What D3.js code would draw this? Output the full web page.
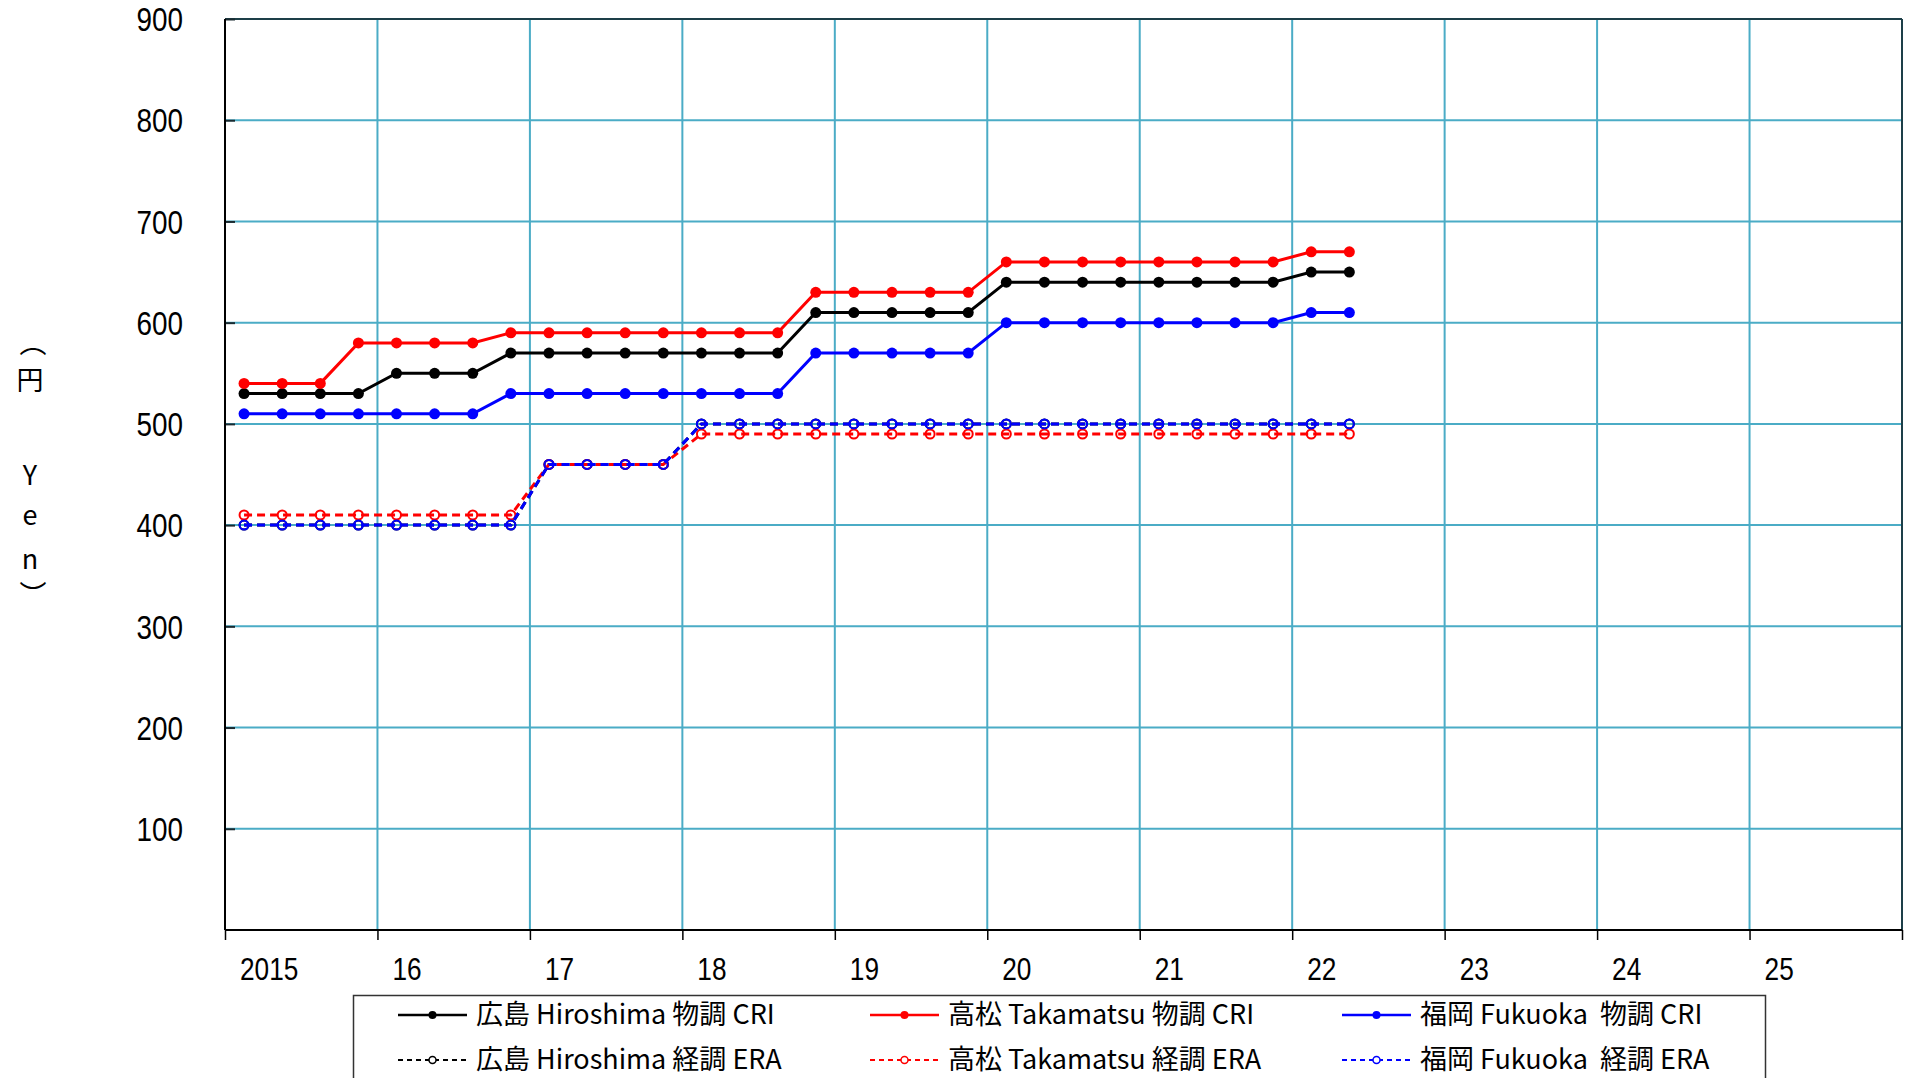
<!DOCTYPE html>
<html>
<head>
<meta charset="utf-8">
<script src="https://cdn.jsdelivr.net/npm/d3@7"></script>
<style>
  body { margin: 0; background: #fff; }
  .num { font-family: "Liberation Sans", Arial, sans-serif; fill: #000; }
  .jp { font-family: "Noto Sans CJK JP", "Noto Sans", sans-serif; fill: #000; }
</style>
</head>
<body>
<svg id="chart" width="1905" height="1078"></svg>
<script>
// quarters 2015 Q1 .. 2022 Q2
var quarters = ["2015Q1","2015Q2","2015Q3","2015Q4","2016Q1","2016Q2","2016Q3","2016Q4",
  "2017Q1","2017Q2","2017Q3","2017Q4","2018Q1","2018Q2","2018Q3","2018Q4",
  "2019Q1","2019Q2","2019Q3","2019Q4","2020Q1","2020Q2","2020Q3","2020Q4",
  "2021Q1","2021Q2","2021Q3","2021Q4","2022Q1","2022Q2"];

var hiroshimaCRI = [530,530,530,530, 550,550,550,570, 570,570,570,570, 570,570,570,610,
  610,610,610,610, 640,640,640,640, 640,640,640,640, 650,650];
var takamatsuCRI = [540,540,540,580, 580,580,580,590, 590,590,590,590, 590,590,590,630,
  630,630,630,630, 660,660,660,660, 660,660,660,660, 670,670];
var fukuokaCRI = [510,510,510,510, 510,510,510,530, 530,530,530,530, 530,530,530,570,
  570,570,570,570, 600,600,600,600, 600,600,600,600, 610,610];
var hiroshimaERA = [400,400,400,400, 400,400,400,400, 460,460,460,460, 500,500,500,500,
  500,500,500,500, 500,500,500,500, 500,500,500,500, 500,500];
var takamatsuERA = [410,410,410,410, 410,410,410,410, 460,460,460,460, 490,490,490,490,
  490,490,490,490, 490,490,490,490, 490,490,490,490, 490,490];
var fukuokaERA = [400,400,400,400, 400,400,400,400, 460,460,460,460, 500,500,500,500,
  500,500,500,500, 500,500,500,500, 500,500,500,500, 500,500];

var xTickLabels = ["2015","16","17","18","19","20","21","22","23","24","25"];
var yTicks = [100,200,300,400,500,600,700,800,900];

var series = [
  {name: "広島 Hiroshima 物調 CRI", values: hiroshimaCRI, color: "#000000", dashed: false},
  {name: "高松 Takamatsu 物調 CRI", values: takamatsuCRI, color: "#ff0000", dashed: false},
  {name: "福岡 Fukuoka  物調 CRI", values: fukuokaCRI, color: "#0000ff", dashed: false},
  {name: "広島 Hiroshima 経調 ERA", values: hiroshimaERA, color: "#000000", dashed: true},
  {name: "高松 Takamatsu 経調 ERA", values: takamatsuERA, color: "#ff0000", dashed: true},
  {name: "福岡 Fukuoka  経調 ERA", values: fukuokaERA, color: "#0000ff", dashed: true}
];

var svg = d3.select("#chart");
var pLeft = 225, pRight = 1902, pTop = 19, pBottom = 930;
var gridColor = "#4bacc6";

var x = d3.scaleLinear().domain([2015, 2026]).range([pLeft, pRight]);
var y = d3.scaleLinear().domain([0, 900]).range([pBottom, pTop]);

// quarter midpoint
function qx(i) {
  var yr = +quarters[i].slice(0, 4), q = +quarters[i].slice(5);
  return x(yr + (q - 0.5) / 4);
}

// grid
var grid = svg.append("g");
grid.selectAll(".vg").data(d3.range(2016, 2026)).enter().append("line")
  .attr("x1", function(d){ return x(d); }).attr("x2", function(d){ return x(d); })
  .attr("y1", pTop).attr("y2", pBottom)
  .style("stroke", gridColor).style("stroke-width", 2);
grid.selectAll(".hg").data(yTicks.slice(0, 8)).enter().append("line")
  .attr("x1", pLeft).attr("x2", pRight)
  .attr("y1", function(d){ return y(d); }).attr("y2", function(d){ return y(d); })
  .style("stroke", gridColor).style("stroke-width", 2);

// frame top / right
svg.append("line").attr("x1", pLeft).attr("x2", pRight).attr("y1", y(900)).attr("y2", y(900))
  .style("stroke", "#1d3f48").style("stroke-width", 2);
svg.append("line").attr("x1", pRight).attr("x2", pRight).attr("y1", pTop).attr("y2", pBottom)
  .style("stroke", "#1d3f48").style("stroke-width", 2);

// y axis (ticks inside)
var yAxis = d3.axisRight(y).tickValues(yTicks).tickSize(10).tickFormat("");
var gy = svg.append("g").attr("transform", "translate(" + pLeft + ",0)").call(yAxis);
gy.select(".domain").remove();
gy.selectAll(".tick line").style("stroke", "#1a2a30").style("stroke-width", 2);
svg.append("line").attr("x1", pLeft).attr("x2", pLeft).attr("y1", pTop).attr("y2", pBottom)
  .style("stroke", "#000").style("stroke-width", 2);
svg.selectAll(".ylab").data(yTicks).enter().append("text")
  .attr("class", "num")
  .attr("transform", function(d){ return "translate(183," + y(d) + ") scale(0.82,1)"; })
  .attr("dy", "0.36em")
  .attr("text-anchor", "end")
  .style("font-size", "34px")
  .text(function(d){ return d; });

// x axis
var xAxis = d3.axisBottom(x).tickValues(d3.range(2015, 2027)).tickSize(10).tickFormat("");
var gx = svg.append("g").attr("transform", "translate(0," + pBottom + ")").call(xAxis);
gx.select(".domain").remove();
gx.selectAll(".tick line").style("stroke", "#000").style("stroke-width", 1.5);
svg.append("line").attr("x1", pLeft).attr("x2", pRight).attr("y1", pBottom).attr("y2", pBottom)
  .style("stroke", "#000").style("stroke-width", 2);
svg.selectAll(".xlab").data(xTickLabels).enter().append("text")
  .attr("class", "num")
  .attr("transform", function(d, i){ return "translate(" + (x(2015 + i) + 15) + ",980) scale(0.82,1)"; })
  .style("font-size", "32px")
  .text(function(d){ return d; });

// y title, vertical writing (parentheses take their vertical forms)
svg.append("text")
  .attr("class", "jp")
  .attr("x", "33 30 30 30 30 33")
  .attr("y", "343 380 475 515 559 595")
  .attr("text-anchor", "middle")
  .style("writing-mode", "vertical-rl")
  .style("text-orientation", "upright")
  .style("font-size", "27px")
  .text("（円Yen）");

// series
var line = d3.line().x(function(d, i){ return qx(i); }).y(function(d){ return y(d); });
series.forEach(function(s) {
  var g = svg.append("g");
  g.append("path").datum(s.values).attr("d", line)
    .style("fill", "none").style("stroke", s.color).style("stroke-width", 3)
    .style("stroke-dasharray", s.dashed ? "8,5" : null);
  g.selectAll("circle").data(s.values).enter().append("circle")
    .attr("cx", function(d, i){ return qx(i); })
    .attr("cy", function(d){ return y(d); })
    .attr("r", s.dashed ? 4.5 : 5.5)
    .style("fill", s.dashed ? "none" : s.color)
    .style("stroke", s.color).style("stroke-width", s.dashed ? 2 : 0);
});

// legend
var lg = svg.append("g");
lg.append("rect").attr("x", 353.5).attr("y", 995.5).attr("width", 1412).attr("height", 100)
  .style("fill", "#fff").style("stroke", "#333").style("stroke-width", 1.5);
series.forEach(function(s, i) {
  var col = i % 3, row = Math.floor(i / 3);
  var lx = 398 + col * 472, ly = row === 0 ? 1015 : 1060;
  lg.append("line").attr("x1", lx).attr("x2", lx + 69).attr("y1", ly).attr("y2", ly)
    .style("stroke", s.color).style("stroke-width", s.dashed ? 2 : 2.5)
    .style("stroke-dasharray", s.dashed ? "5,4" : null);
  lg.append("circle").attr("cx", lx + 34.5).attr("cy", ly).attr("r", s.dashed ? 3.5 : 4)
    .style("fill", s.dashed ? "#fff" : s.color)
    .style("stroke", s.color).style("stroke-width", s.dashed ? 1.5 : 0);
  lg.append("text").attr("class", "jp")
    .attr("x", lx + 78).attr("y", ly).attr("dy", "0.35em")
    .style("font-size", "27px").style("white-space", "pre")
    .attr("xml:space", "preserve")
    .text(s.name);
});
</script>
</body>
</html>
